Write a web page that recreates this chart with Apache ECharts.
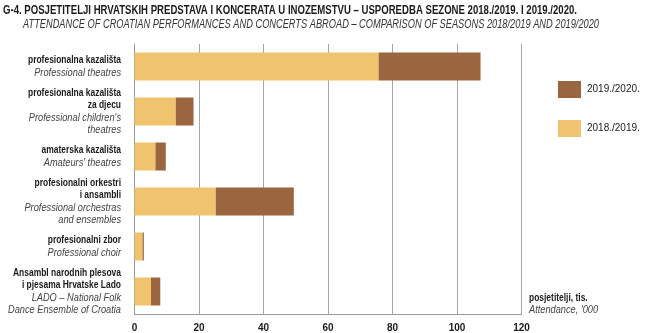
<!DOCTYPE html>
<html><head><meta charset="utf-8">
<script src="https://cdn.jsdelivr.net/npm/echarts@6/dist/echarts.min.js"></script>
<style>html,body{margin:0;padding:0;background:#fff}#c{width:645px;height:333px}</style>
</head><body><div id="c"></div>
<script>
const catHr = ["profesionalna kazališta","profesionalna kazališta\nza djecu","amaterska kazališta","profesionalni orkestri\ni ansambli","profesionalni zbor","Ansambl narodnih plesova\ni pjesama Hrvatske Lado"];
const catEn = ["Professional theatres","Professional children's\ntheatres","Amateurs' theatres","Professional orchestras\nand ensembles","Professional choir","LADO – National Folk\nDance Ensemble of Croatia"];
const s2018 = [75.7, 12.8, 6.5, 25.2, 2.5, 5.1];
const s2019 = [31.6, 5.5, 3.2, 24.2, 0.4, 2.9];
const xTicks = [0, 20, 40, 60, 80, 100, 120];
const seriesNames = ["2018./2019.", "2019./2020."];
const titleHr = "G-4. POSJETITELJI HRVATSKIH PREDSTAVA I KONCERATA U INOZEMSTVU – USPOREDBA SEZONE 2018./2019. I 2019./2020.";
const titleEn = "ATTENDANCE OF CROATIAN PERFORMANCES AND CONCERTS ABROAD – COMPARISON OF SEASONS 2018/2019 AND 2019/2020";
const unitHr = "posjetitelji, tis.";
const unitEn = "Attendance, '000";

const FAM = '"Liberation Sans", Arial, sans-serif';
const BOLD11 = 'bold 11px ' + FAM;
const ITAL11 = 'italic 11px ' + FAM;
const TB = 'bold 12px ' + FAM;
const TI = 'italic 12px ' + FAM;
const ctx = document.createElement('canvas').getContext('2d');
function w(font, s){ ctx.font = font; return ctx.measureText(s).width; }
// condensed look: horizontal scale factors
const sBold = 108 / w(BOLD11, "Ansambl narodnih plesova");
const sItal = 113 / w(ITAL11, "Dance Ensemble of Croatia");
const sTB = 574 / w(TB, titleHr);
const sTI = 576 / w(TI, titleEn);

const chart = echarts.init(document.getElementById('c'));
chart.setOption({
  animation:false,
  legend:{
    orient:'vertical', left:553, top:76, itemWidth:23, itemHeight:17, itemGap:22,
    data:[seriesNames[1], seriesNames[0]], icon:'rect', itemStyle:{borderWidth:0},
    textStyle:{fontFamily:FAM,fontSize:10,color:'#1a1a1a',padding:[0,0,0,1]}
  },
  grid:{left:134.5, right:123.5, top:44, bottom:19, containLabel:false, outerBoundsMode:'none'},
  xAxis:{type:'value', min:xTicks[0], max:xTicks[xTicks.length-1], interval:xTicks[1]-xTicks[0],
    axisLine:{show:true,lineStyle:{color:'#999',width:1}},
    axisTick:{show:false},
    splitLine:{show:true,lineStyle:{color:'#a6a6a6',width:1}},
    axisLabel:{fontFamily:FAM,fontSize:10,color:'#1a1a1a',margin:9,fontWeight:'bold'}
  },
  yAxis:{type:'category', inverse:true, data:catHr,
    axisLine:{show:true,lineStyle:{color:'#999',width:1}},
    axisTick:{show:false}, axisLabel:{show:false}
  },
  series:[
    {name:seriesNames[0], type:'bar', stack:'a', data:s2018, barWidth:28, itemStyle:{color:'#F0C36F'}},
    {name:seriesNames[1], type:'bar', stack:'a', data:s2019, barWidth:28, itemStyle:{color:'#9B6540'}}
  ]
});

// text drawn as graphics (so a condensed face can be imitated with scaleX)
function txt(x, y, text, font, fill, sx, align){
  return {type:'group', x:x, y:y, scaleX:sx, silent:true, children:[
    {type:'text', style:{x:0, y:0, text:text, font:font, fill:fill, align:align||'left', verticalAlign:'middle'}}
  ]};
}
const g = [];
g.push(txt(3, 10.5, titleHr, TB, '#1a1a1a', sTB));
g.push(txt(23, 24.5, titleEn, TI, '#333', sTI));
const LH = 12.5;
catHr.forEach((h,k)=>{
  const yc = chart.convertToPixel({yAxisIndex:0}, k);
  const lines = h.split("\n").map(s=>[s,'b']).concat(catEn[k].split("\n").map(s=>[s,'i']));
  const y0 = yc - (lines.length-1)*LH/2;
  lines.forEach((L,j)=>{
    if (L[1]==='b') g.push(txt(121, y0+j*LH, L[0], BOLD11, '#1a1a1a', sBold, 'right'));
    else g.push(txt(121, y0+j*LH, L[0], ITAL11, '#444', sItal, 'right'));
  });
});
g.push(txt(529, 297.5, unitHr, BOLD11, '#1a1a1a', sBold));
g.push(txt(529, 309.5, unitEn, ITAL11, '#444', sItal));
chart.setOption({graphic:g});
</script></body></html>
